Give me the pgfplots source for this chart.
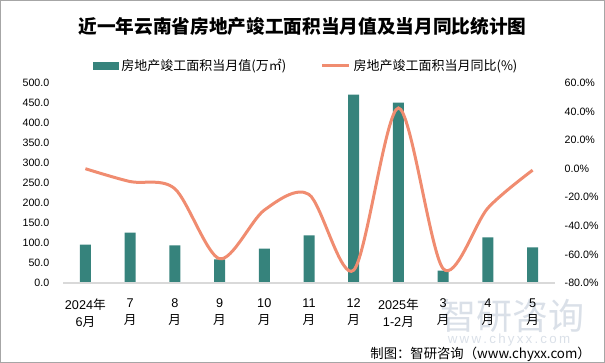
\documentclass[border=0pt]{standalone}
\usepackage{pgfplots}
\pgfplotsset{compat=1.18}
\usepackage{fontspec}
\setmainfont{Liberation Sans}
\newfontfamily\cjk{Noto Sans CJK SC}
\newlength\px \setlength\px{0.75pt}
\definecolor{barc}{RGB}{54,131,124}
\definecolor{linec}{RGB}{240,140,112}
\definecolor{wm}{RGB}{218,224,232}
\begin{document}
\begin{tikzpicture}
\path[use as bounding box] (0,0) rectangle (605\px,363\px);
\draw[gray!70,line width=1\px] (0.5\px,0.5\px) rectangle (604.5\px,362.5\px);
% watermark
\node[font=\cjk\fontsize{27}{30}\selectfont,text=wm,inner sep=0] at (512\px,47\px) {智研咨询};
\node[font=\fontsize{10}{12}\selectfont,text=wm,inner sep=0] at (509\px,23\px) {w\,w\,w\,.\,c\,h\,y\,x\,x\,.\,c\,o\,m};
% title
\node[font=\cjk\bfseries\fontsize{14}{16}\selectfont,inner sep=0] at (302.5\px,337\px) {近一年云南省房地产竣工面积当月值及当月同比统计图};
% footer
\node[font=\cjk\fontsize{10}{12}\selectfont,anchor=east,inner sep=0] at (591\px,9\px) {制图：智研咨询（www.chyxx.com）};
\begin{axis}[
  at={(63\px,80\px)}, anchor=south west,
  width=492\px, height=200\px, scale only axis,
  xmin=-0.5, xmax=10.5, ymin=0, ymax=500,
  axis line style={draw=none}, tick style={draw=none},
  ytick={0,50,...,500},
  yticklabel style={font=\fontsize{8}{10}\selectfont, xshift=-9\px, /pgf/number format/.cd, fixed, fixed zerofill, precision=1, assume math mode=true},
  xtick={0,...,10},
  xticklabels={{2024\cjk{年}\\6\cjk{月}},{7\\\cjk{月}},{8\\\cjk{月}},{9\\\cjk{月}},{10\\\cjk{月}},{11\\\cjk{月}},{12\\\cjk{月}},{2025\cjk{年}\\1-2\cjk{月}},{3\\\cjk{月}},{4\\\cjk{月}},{5\\\cjk{月}}},
  xticklabel style={align=center, font=\fontsize{9.5}{13}\selectfont, yshift=-5\px},
  ybar, bar width=11\px,
  clip=false,
]
\addplot[fill=barc, draw=none] coordinates {(0,96) (1,126) (2,94) (3,59) (4,86) (5,119) (6,471) (7,451) (8,31) (9,114) (10,89)};
\draw[black!15, line width=1.5\px] (axis cs:-0.5,0) -- (axis cs:10.5,0);
\end{axis}
\begin{axis}[
  at={(63\px,80\px)}, anchor=south west,
  width=492\px, height=200\px, scale only axis,
  xmin=-0.5, xmax=10.5, ymin=-80, ymax=60,
  axis line style={draw=none}, tick style={draw=none},
  axis y line*=right, axis x line=none,
  ytick={-80,-60,...,60},
  yticklabel={\pgfmathprintnumber[fixed, fixed zerofill, precision=1, assume math mode=true]{\tick}\%},
  yticklabel style={font=\fontsize{8}{10}\selectfont, xshift=5\px},
  legend style={at={(0.061,1.085)}, anchor=west, draw=none, fill=none, inner sep=0pt,
    legend columns=2, font=\cjk\fontsize{9.75}{12}\selectfont,
    /tikz/every even column/.append style={column sep=32\px}},
  legend cell align=left,
]
\addlegendimage{legend image code/.code={\fill[barc] (0pt,-3.25\px) rectangle (25\px,3.25\px);}}
\addlegendentry{房地产竣工面积当月值(万㎡)}
\addplot[linec, line width=3\px, smooth, tension=0.5, legend image code/.code={\draw[linec,line width=3\px] (0pt,0pt) -- (27\px,0pt);}] coordinates {(0,0) (1,-9) (2,-14) (3,-63) (4,-29) (5,-18) (6,-71) (7,42.5) (8,-70) (9,-27.5) (10,-1)};
\addlegendentry{房地产竣工面积当月同比(\%)}
\end{axis}
\end{tikzpicture}
\end{document}
